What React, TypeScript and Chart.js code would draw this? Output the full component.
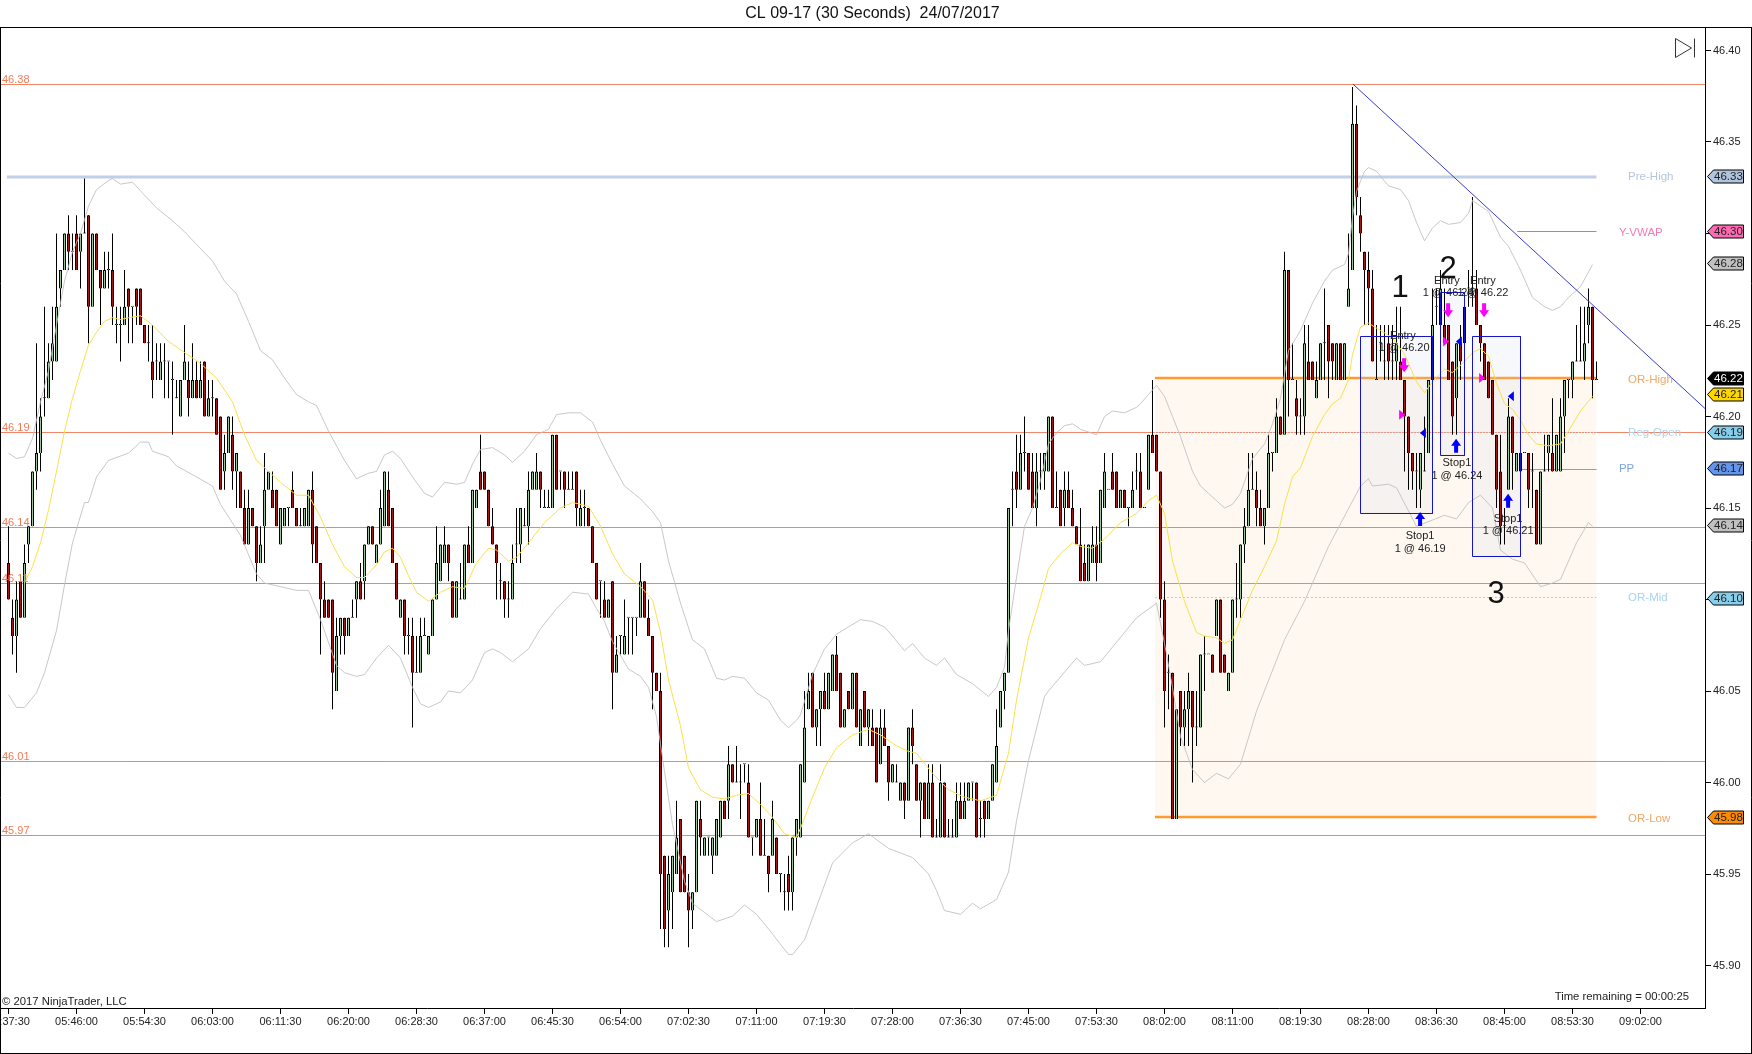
import React, { useEffect, useRef } from "react";
import { Chart, registerables } from "chart.js";
Chart.register(...registerables);

// OHLC values are in hundredths of a dollar above 46.00, one entry per 30-second bar
const openC = [12,9,8,11,9,13,14,17,18,21,21,23,23,27,28,30,29,30,29,30,31,26,30,28,27,28,28,25,25,25,27,26,27,27,25,24,23,23,22,23,23,22,21,20,22,22,21,22,21,23,20,21,21,20,17,18,19,17,17,15,13,15,14,12,14,16,16,16,13,14,15,16,15,14,14,14,16,14,12,10,10,10,5,8,9,8,9,10,11,11,13,14,12,13,14,16,15,12,9,10,8,8,6,6,8,7,8,10,11,12,13,11,9,10,10,13,12,15,17,17,16,14,13,11,11,10,10,13,13,14,14,16,16,17,15,15,15,19,17,17,16,16,17,14,15,15,14,12,11,10,9,11,6,8,7,9,9,9,9,11,9,8,6,5,-4,-7,-6,-5,-2,-4,-6,-7,-6,-2,-4,-3,-4,-4,-3,-1,-1,1,0,0,1,0,-3,-3,-2,-4,-4,-4,-3,-5,-6,-5,-6,-3,-3,0,4,6,3,4,5,4,5,7,6,3,5,4,6,2,5,3,3,3,1,3,2,0,0,-1,0,-1,3,1,-1,0,-2,0,-3,-3,0,-3,-3,-3,-1,-2,-1,0,0,-2,-1,-2,-1,0,3,5,6,16,17,16,18,18,17,15,17,17,17,20,15,16,15,16,15,14,13,12,11,12,13,12,15,16,17,17,15,16,15,15,17,17,15,16,19,19,17,10,6,6,-2,5,3,4,5,3,3,7,7,7,8,10,7,5,6,10,10,13,14,16,16,15,14,15,18,18,20,19,28,22,21,20,20,23,23,21,22,24,25,24,22,24,22,26,28,36,31,29,28,27,22,24,23,24,23,23,23,22,20,18,17,16,17,18,22,26,25,25,25,23,21,24,24,27,27,27,25,24,23,22,19,17,14,16,20,17,17,18,18,17,16,13,17,18,18,17,17,20,22,22,23,23,23,25,26,22];
const highC = [14,10,11,11,13,14,17,24,21,26,24,26,30,28,30,31,30,31,30,33,31,30,30,28,29,29,30,26,26,28,27,26,27,27,25,25,25,24,24,24,23,23,22,22,25,23,24,23,23,23,22,22,21,20,19,20,20,18,17,16,16,15,14,14,18,17,17,16,15,15,15,17,15,15,15,16,17,14,12,11,10,10,9,9,9,9,10,11,12,13,14,14,13,16,17,17,15,12,10,10,9,9,8,9,9,8,10,14,13,14,13,11,11,12,13,14,16,16,19,17,16,15,13,12,11,11,13,15,15,15,17,17,18,17,16,16,19,19,17,17,17,17,17,16,16,15,14,12,11,11,10,11,8,8,10,9,9,9,12,11,10,8,6,6,-4,-4,-4,-1,-2,-4,-5,-6,-1,-1,-3,-3,-3,-2,-1,-1,2,1,2,1,1,1,-3,-2,0,-2,-4,-1,-3,-5,-5,-4,-3,-2,1,5,6,6,4,5,6,6,7,8,6,4,5,6,6,4,5,4,4,3,4,4,2,1,1,0,0,3,4,1,0,0,1,1,-2,1,0,-2,-2,0,0,0,0,0,0,-1,-1,-1,1,4,5,6,15,17,19,19,20,18,18,18,18,18,20,20,17,16,17,17,16,14,15,13,13,14,14,16,18,16,18,17,16,16,15,17,18,18,15,19,22,19,17,11,7,6,4,5,5,6,5,5,7,8,7,7,10,10,7,6,10,12,13,15,18,18,17,16,15,19,18,21,20,29,28,24,22,21,25,25,23,23,24,27,25,24,24,24,24,30,38,37,32,29,29,28,25,25,25,25,25,26,26,22,20,18,18,18,20,22,27,27,28,27,25,23,24,25,26,28,32,28,25,24,23,22,19,19,15,21,20,18,18,18,18,18,16,17,19,19,21,19,21,22,22,23,25,26,26,27,26,23];
const lowC = [10,7,6,9,9,12,14,16,17,20,21,22,23,26,28,28,28,28,27,30,24,26,28,25,27,27,25,24,23,25,24,24,25,25,24,23,21,22,22,21,21,19,21,20,22,20,21,21,21,20,20,20,19,16,16,18,16,15,15,13,13,14,11,12,12,16,15,14,13,14,14,15,14,14,14,14,12,12,7,9,9,4,5,7,7,8,9,9,10,10,13,13,12,13,14,14,12,10,9,7,7,3,6,6,8,7,8,10,11,12,11,9,9,10,10,12,12,15,16,16,14,13,10,10,9,9,10,12,12,14,13,16,16,15,15,15,15,16,16,15,16,16,14,14,14,14,12,10,9,9,9,4,6,7,7,7,7,8,9,9,8,4,5,-8,-9,-9,-8,-5,-6,-6,-9,-8,-6,-4,-4,-4,-5,-4,-3,-2,-2,0,0,-2,0,-3,-4,-3,-4,-4,-6,-4,-5,-6,-7,-7,-7,-4,-3,0,4,3,2,2,4,4,5,5,3,3,4,4,3,2,3,2,2,0,1,2,-1,0,0,-1,-2,-1,1,-1,-3,-2,-2,-3,-3,-3,-3,-3,-3,-3,-2,-2,-1,-1,-3,-3,-3,-2,-1,0,3,4,6,14,15,16,17,16,15,14,16,16,17,15,15,14,14,15,14,13,11,11,11,12,11,12,15,16,16,15,15,15,14,15,16,15,15,16,18,17,9,3,4,-2,-2,2,2,2,0,2,3,5,7,6,8,6,6,5,6,9,9,12,14,16,14,14,13,15,17,18,19,19,20,22,19,19,19,22,22,21,22,22,21,22,22,22,22,26,28,31,29,25,25,23,22,23,22,22,22,22,22,17,16,16,15,15,17,18,22,25,25,24,22,19,19,22,24,26,26,25,23,22,21,19,15,13,13,16,16,17,17,18,15,15,13,13,17,17,17,17,17,18,21,21,23,23,22,24,21,22];
const closeC = [10,8,10,9,12,14,17,18,20,21,23,24,26,28,30,29,29,28,30,30,26,30,28,27,28,28,26,25,25,26,26,26,26,25,24,24,22,23,23,23,23,22,21,22,23,21,22,21,22,20,21,21,19,16,18,20,17,18,15,13,15,14,12,13,16,17,15,14,15,15,15,15,14,14,15,16,13,12,10,9,9,6,8,9,8,9,9,11,10,13,14,13,13,15,17,14,12,10,10,8,8,6,6,8,8,8,10,12,13,13,12,9,11,10,13,12,16,16,16,16,14,13,12,11,10,10,12,13,15,14,16,17,17,16,15,15,19,16,17,16,16,16,15,15,15,14,12,10,11,9,10,6,7,8,8,9,9,9,11,9,8,6,5,-5,-8,-5,-4,-3,-6,-6,-7,-6,-1,-3,-3,-3,-3,-2,-1,-2,1,0,0,0,1,-3,-3,-2,-4,-4,-5,-2,-5,-5,-6,-6,-3,-2,1,3,5,3,4,5,4,6,7,5,3,4,4,6,3,4,3,4,2,0,3,2,0,1,0,0,-1,3,2,-1,0,-2,0,-3,-3,0,-3,-3,-3,-1,-2,-1,0,0,-3,-2,-2,-1,1,2,5,6,15,16,16,18,18,16,15,17,17,18,20,15,15,14,16,15,14,13,11,11,13,13,12,16,17,16,16,15,16,15,15,16,17,15,15,19,18,17,10,5,6,-2,4,3,4,5,3,3,7,7,7,6,10,6,6,6,10,10,13,14,16,16,15,14,15,18,18,20,19,28,22,22,20,20,24,22,22,22,24,24,23,23,24,22,24,27,36,32,30,28,27,23,22,24,23,23,23,24,22,20,18,17,17,18,17,22,25,26,27,24,22,20,24,23,26,27,27,25,24,22,21,19,16,14,14,20,18,18,18,18,16,17,13,17,17,19,17,19,20,22,22,23,23,23,24,26,22,22];

const emaBars = [4,6,8,10,12,14,16,18,20,22,24,26,28,30,33,36,40,44,48,52,56,59,62,64,68,72,75,78,81,84,87,89,92,94,96,98,100,102,105,108,111,114,117,120,122,125,127,130,134,138,141,145,148,151,154,158,161,163,165,168,170,173,176,179,182,185,188,191,194,197,198,201,204,207,211,215,218,222,225,227,231,235,239,243,247,250,252,255,258,260,263,266,268,271,274,278,282,285,287,289,291,294,297,299,302,304,306,308,311,314,317,319,321,323,326,329,331,333,335,336,338,340,343,346,349,352,354,356,359,361,364,366,368,370,372,374,376,378,380,382,385,388,390,393,396];
const emaVals = [10.9,11.8,13.1,14.9,17,19.2,21,22.5,23.9,24.6,25.2,25.4,25.3,25.4,25.5,25,24.1,23.5,22.9,22.1,20.8,19,17.6,17.2,16.4,15.7,15.7,14.5,13,11.8,11.2,11.2,11.9,12.6,12.8,12.3,11.3,10.4,9.9,10.4,10.7,10.6,12,12.8,12.7,12.1,12.3,13.1,14.2,15,15.3,15.1,14,12.5,11.4,10.7,10,8.2,5.6,3.1,0.8,-0.4,-0.8,-0.9,-0.7,-0.6,-1.2,-1.9,-2.8,-3,-2.5,-0.8,0.8,1.9,2.6,2.9,2.6,2,1.7,1.6,0.5,-0.4,-0.8,-1,-0.7,1.6,4.5,7.9,10.1,11.7,12.5,13.1,12.9,12.8,13.3,14.2,14.7,15.4,15.7,14.7,12.1,9.9,8.2,8,7.9,7.6,7.8,8.9,10.5,11.8,13.2,15.2,16.7,17.2,18.9,20.1,20.7,21,22,23.4,24.9,25.1,24.7,24.3,23.4,21.9,21.3,21.9,22.6,22.4,23,23.5,23.7,23.3,21.8,20.7,20.4,19.8,19,18.5,18.4,18.5,19.2,20.3,21.1];
const upperBars = [0,2,4,6,8,10,12,14,16,18,20,22,25,26,28,31,34,37,41,44,47,51,54,57,60,63,66,69,72,75,77,80,84,87,90,92,94,96,98,101,104,106,109,112,114,116,118,121,124,126,129,132,135,137,140,143,146,148,151,154,158,161,163,165,168,171,174,177,179,181,184,187,190,193,195,197,198,201,204,207,210,213,216,219,221,224,226,229,232,234,237,241,245,247,249,250,252,254,256,258,260,262,264,266,268,272,274,276,279,282,283,285,287,289,291,293,296,298,300,302,304,306,308,311,314,316,318,320,323,326,329,331,334,335,336,337,339,340,342,345,348,350,352,354,356,358,360,363,365,366,368,370,373,375,378,381,384,386,388,390,393,396];
const upperVals = [18,17.7,17.8,18.8,20.8,22.5,25,27.4,29,30,31.5,32.4,32.9,33,32.7,32.8,32.1,31.4,30.7,30.1,29.4,28.5,27.4,26.7,25.2,23.6,23.1,22.1,21.2,20.8,20.6,19.2,17.6,16.6,16.9,17,17.9,18.1,17.7,16.7,15.8,15.6,16.4,16.3,16.4,17.4,18.2,18.3,17.9,17.5,18.1,19,19.3,20.1,20.2,20.2,19.7,18.7,17.4,16.2,15.5,14.8,14.2,12.1,9.8,7.8,7.3,5.7,5.6,5.8,5.7,4.9,4.5,3.4,3,3.4,3.7,5.9,7.3,8.1,8.5,8.9,8.8,8.5,8,7.2,7.6,6.8,6.4,6.8,5.9,5.4,4.7,5.2,6.3,8.3,11.2,14,15,16.5,18.5,19.1,19.5,19.6,19.3,19,20,20.3,20.2,20.5,20.7,21.2,21.7,21.1,20,18.9,17,16.2,15.8,15.4,15,15.2,15.8,17.7,18.5,19.6,21,23.6,24.7,26.2,27.4,28,28.3,28.9,30.9,32.3,33.4,33.6,33.4,32.6,32.4,31.8,30.6,29.6,30.3,30.7,30.5,30.6,31.1,31.8,31.5,31.2,29.8,29.3,28,26.5,26,25.8,26,26.5,27.1,28.3];
const lowerBars = [0,2,4,7,9,12,14,16,19,20,22,25,30,33,35,36,40,42,47,51,53,58,62,64,68,72,75,78,82,84,87,89,92,95,98,101,103,105,108,110,113,116,119,121,123,126,130,133,137,141,145,147,149,151,155,158,160,162,164,166,169,171,177,181,184,187,190,195,196,199,206,211,215,220,226,230,232,234,238,241,243,247,250,252,255,259,260,267,269,273,282,287,289,291,293,296,299,302,305,308,312,319,324,330,338,340,341,345,347,352,359,362,365,368,371,373,376,379,383,386,388,392,395,396];
const lowerVals = [4.8,4.1,4.1,4.9,6,8.3,10.8,13.1,15.3,15.3,16.7,17.6,18,18.6,18.6,18.1,17.8,17.3,16.7,16.2,15.2,13.5,11.4,10.9,10.7,10.5,10.5,8.9,6.4,6,5.8,5.9,6.8,7.5,6.8,5.2,4.3,4.1,4.4,5,4.9,5.6,7.1,7.3,7.1,6.6,7.3,8.4,9.5,10.4,10.3,9.5,8.8,7.7,6.2,5.8,5.2,3.6,0.6,-2.3,-5.4,-6.6,-7.6,-7.3,-6.7,-7.2,-8,-9.4,-9.4,-8.6,-4.4,-3.3,-2.8,-3.6,-4.1,-5,-5.9,-7,-7.2,-6.6,-6.9,-6.4,-4.9,-2.1,1.2,4.7,5,6.8,6.4,6.6,9,9.8,7.6,5.2,2.5,0.7,0,0.5,0.2,1,3.9,7.8,9.9,12.9,16.2,16.6,16.2,16.3,16.1,14,14.6,14.4,15.3,15.7,15,12.7,12.2,12,10.7,10.9,11.1,13.1,14.2,14];

const timeLabels = ["05:37:30","05:46:00","05:54:30","06:03:00","06:11:30","06:20:00","06:28:30","06:37:00","06:45:30","06:54:00","07:02:30","07:11:00","07:19:30","07:28:00","07:36:30","07:45:00","07:53:30","08:02:00","08:11:00","08:19:30","08:28:00","08:36:30","08:45:00","08:53:30","09:02:00"];
const timeBars = timeLabels.map((_, k) => k * 17);
const priceTicks = [45.9,45.95,46,46.05,46.1,46.15,46.2,46.25,46.3,46.35,46.4];

const levelPrices = [46.38142,46.19126,46.13934,46.10874,46.01148,45.97104];
const levelTexts = ["46.38","46.19","46.14","46.11","46.01","45.97"];

const orStart = 286.6;
const orEnd = 397;
const orHigh = 46.22104;
const orLow = 45.98115;
const orMid = 46.10109;
const regOpen = 46.19126;
const preHigh = 46.33087;
const yVwap = 46.30109;
const pivot = 46.17104;

const trendBars = [336.1,424.125];
const trendPrices = [46.38169,46.20437];

const boxes = [
  { from: 338, to: 356, top: 46.24372, bottom: 46.147 },
  { from: 358, to: 364, top: 46.26776, bottom: 46.17869 },
  { from: 366, to: 378, top: 46.24372, bottom: 46.1235 },
];

const lineNames = [
  { text: "Pre-High", bar: 404.9, price: 46.3309, color: "#b4c6de" },
  { text: "Y-VWAP", bar: 402.6, price: 46.3004, color: "#f47ab4" },
  { text: "OR-High", bar: 404.9, price: 46.2203, color: "#f2a76a" },
  { text: "Reg-Open", bar: 404.9, price: 46.191, color: "#a6d4ee" },
  { text: "PP", bar: 402.6, price: 46.1712, color: "#7ea2e6" },
  { text: "OR-Mid", bar: 404.9, price: 46.1007, color: "#a6d4ee" },
  { text: "OR-Low", bar: 404.9, price: 45.9801, color: "#eea868" },
];
const priceTags = [
  { text: "46.33", at: 46.3315, fill: "#b0c4de", ink: "#222" },
  { text: "46.30", at: 46.3015, fill: "#ff69b4", ink: "#222" },
  { text: "46.28", at: 46.284, fill: "#c0c0c0", ink: "#222" },
  { text: "46.22", at: 46.221, fill: "#000000", ink: "#fff" },
  { text: "46.21", at: 46.2125, fill: "#ffd700", ink: "#222" },
  { text: "46.19", at: 46.1915, fill: "#87ceeb", ink: "#222" },
  { text: "46.17", at: 46.172, fill: "#6495ed", ink: "#222" },
  { text: "46.14", at: 46.1405, fill: "#c0c0c0", ink: "#222" },
  { text: "46.10", at: 46.101, fill: "#87ceeb", ink: "#222" },
  { text: "45.98", at: 45.981, fill: "#ff8c00", ink: "#222" },
];
const smallNotes = [
  { text: "Entry", bar: 348.6, c: 24.4 },
  { text: "1 @ 46.20", bar: 348.9, c: 23.74 },
  { text: "Entry", bar: 359.6, c: 27.4 },
  { text: "1 @ 46.24", bar: 359.9, c: 26.74 },
  { text: "Entry", bar: 368.6, c: 27.4 },
  { text: "1 @ 46.22", bar: 368.6, c: 26.74 },
  { text: "Stop1", bar: 352.9, c: 13.47 },
  { text: "1 @ 46.19", bar: 352.9, c: 12.75 },
  { text: "Stop1", bar: 362.1, c: 17.44 },
  { text: "1 @ 46.24", bar: 362.1, c: 16.75 },
  { text: "Stop1", bar: 374.9, c: 14.42 },
  { text: "1 @ 46.21", bar: 374.9, c: 13.75 },
];
const bigNotes = [
  { text: "1", bar: 347.9, c: 26.98 },
  { text: "2", bar: 359.9, c: 28.04 },
  { text: "3", bar: 371.9, c: 10.28 },
];
const downArrows = [{ bar: 348.9, c: 22.8 }, { bar: 359.9, c: 25.8 }, { bar: 368.9, c: 25.8 }];
const upArrows = [{ bar: 352.9, c: 14.4 }, { bar: 361.9, c: 18.4 }, { bar: 374.9, c: 15.4 }];
const rightMarks = [{ bar: 348.4, c: 20.1 }, { bar: 359.4, c: 24.1 }, { bar: 368.4, c: 22.1 }];
const leftMarks = [{ bar: 353.6, c: 19.1 }, { bar: 362.6, c: 24.1 }, { bar: 375.6, c: 21.1 }];

const FONT = '"Liberation Sans", Arial, sans-serif';
const price = (c: number) => 46 + c / 100;
const seg = (x0: number, x1: number, y: number) => [{ x: x0, y }, { x: x1, y }];
const xyFrom = (bars: number[], vals: number[]) => bars.map((b, k) => ({ x: b, y: price(vals[k]) }));
const lineBase = { type: "line", pointRadius: 0, tension: 0, fill: false, borderWidth: 1 };

const overlays = {
  id: "overlays",
  afterDatasetsDraw(chart: any) {
    const { ctx, scales } = chart;
    const X = (b: number) => scales.x.getPixelForValue(b);
    const Y = (p: number) => scales.y.getPixelForValue(p);
    ctx.save();
    ctx.textBaseline = "middle";

    ctx.fillStyle = "#f47a55";
    ctx.font = `11px ${FONT}`;
    ctx.textAlign = "left";
    levelPrices.forEach((p, k) => ctx.fillText(levelTexts[k], 2, Y(p) - 5));

    downArrows.forEach(({ bar, c }) => {
      const x = X(bar), y = Y(price(c));
      ctx.fillStyle = "#ff00ff";
      ctx.beginPath();
      [[-2,-7],[2,-7],[2,0],[5,0],[0,7],[-5,0],[-2,0]].forEach(([a, b], i) => i ? ctx.lineTo(x + a, y + b) : ctx.moveTo(x + a, y + b));
      ctx.closePath(); ctx.fill();
    });
    upArrows.forEach(({ bar, c }) => {
      const x = X(bar), y = Y(price(c));
      ctx.fillStyle = "#0000ff";
      ctx.beginPath();
      [[-2,7],[2,7],[2,0],[5,0],[0,-7],[-5,0],[-2,0]].forEach(([a, b], i) => i ? ctx.lineTo(x + a, y + b) : ctx.moveTo(x + a, y + b));
      ctx.closePath(); ctx.fill();
    });
    rightMarks.forEach(({ bar, c }) => {
      const x = X(bar), y = Y(price(c));
      ctx.fillStyle = "#ff00ff";
      ctx.beginPath(); ctx.moveTo(x - 3, y - 5); ctx.lineTo(x + 3, y); ctx.lineTo(x - 3, y + 5); ctx.closePath(); ctx.fill();
    });
    leftMarks.forEach(({ bar, c }) => {
      const x = X(bar), y = Y(price(c));
      ctx.fillStyle = "#0000ff";
      ctx.beginPath(); ctx.moveTo(x + 3, y - 5); ctx.lineTo(x - 3, y); ctx.lineTo(x + 3, y + 5); ctx.closePath(); ctx.fill();
    });

    ctx.fillStyle = "#222";
    ctx.textAlign = "center";
    ctx.font = `11px ${FONT}`;
    smallNotes.forEach((n) => ctx.fillText(n.text, X(n.bar), Y(price(n.c))));
    ctx.fillStyle = "#111";
    ctx.font = `31px ${FONT}`;
    bigNotes.forEach((n) => ctx.fillText(n.text, X(n.bar), Y(price(n.c))));

    ctx.textAlign = "left";
    ctx.font = `11.5px ${FONT}`;
    lineNames.forEach((n) => {
      ctx.fillStyle = n.color;
      ctx.fillText(n.text, X(n.bar), Y(n.price));
    });

    priceTags.forEach((t) => {
      const y = Math.round(Y(t.at)) + 0.5;
      ctx.beginPath();
      ctx.moveTo(1707.5, y);
      ctx.lineTo(1713.5, y - 6.5);
      ctx.lineTo(1743.5, y - 6.5);
      ctx.lineTo(1743.5, y + 6.5);
      ctx.lineTo(1713.5, y + 6.5);
      ctx.closePath();
      ctx.fillStyle = t.fill;
      ctx.fill();
      ctx.strokeStyle = "#000";
      ctx.lineWidth = 1;
      ctx.stroke();
      ctx.fillStyle = t.ink;
      ctx.font = `11.5px ${FONT}`;
      ctx.textAlign = "left";
      ctx.fillText(t.text, 1714, y + 0.5);
    });

    ctx.strokeStyle = "#000";
    ctx.lineWidth = 1;
    ctx.beginPath();
    ctx.moveTo(0, 27.5); ctx.lineTo(1752, 27.5);
    ctx.moveTo(0.5, 27); ctx.lineTo(0.5, 1054);
    ctx.moveTo(1751.5, 27); ctx.lineTo(1751.5, 1054);
    ctx.moveTo(0, 1053.5); ctx.lineTo(1752, 1053.5);
    ctx.stroke();

    ctx.strokeStyle = "#333";
    ctx.beginPath();
    ctx.moveTo(1675.5, 38.5); ctx.lineTo(1691.5, 48); ctx.lineTo(1675.5, 57.5); ctx.closePath();
    ctx.moveTo(1694.5, 38.5); ctx.lineTo(1694.5, 57.5);
    ctx.stroke();

    ctx.fillStyle = "#111";
    ctx.font = `16px ${FONT}`;
    ctx.textAlign = "center";
    ctx.fillText("CL 09-17 (30 Seconds)  24/07/2017", 872.5, 14);
    ctx.font = `11.3px ${FONT}`;
    ctx.textAlign = "left";
    ctx.fillStyle = "#222";
    ctx.fillText("© 2017 NinjaTrader, LLC", 2, 1001.5);
    ctx.textAlign = "right";
    ctx.fillText("Time remaining = 00:00:25", 1689, 997);
    ctx.restore();
  },
};

export default function App() {
  const ref = useRef<HTMLCanvasElement>(null);
  useEffect(() => {
    const datasets: any[] = [
      { ...lineBase, order: 60, data: seg(orStart, orEnd, orHigh), borderWidth: 0, backgroundColor: "#fef8f0", fill: { value: orLow } },
      ...levelPrices.map((p) => ({ ...lineBase, order: 50, data: seg(-1.875, 424.125, p), borderColor: "#f08568" })),
      { ...lineBase, order: 49, data: seg(-0.4, orEnd, preHigh), borderColor: "#c2d0e7", borderWidth: 3 },
      { ...lineBase, order: 49, data: seg(377.2, orEnd, yVwap), borderColor: "#ee5fae" },
      { ...lineBase, order: 49, data: seg(378, orEnd, pivot), borderColor: "#7e9edc" },
      { ...lineBase, order: 49, data: seg(orStart, orEnd, orHigh), borderColor: "#ff9a2e", borderWidth: 2.5 },
      { ...lineBase, order: 49, data: seg(orStart, orEnd, orLow), borderColor: "#ff9a2e", borderWidth: 2.5 },
      { ...lineBase, order: 49, data: seg(orStart, orEnd, orMid), borderColor: "#a6d0ea", borderDash: [2, 2] },
      { ...lineBase, order: 49, data: seg(orStart, orEnd, regOpen), borderColor: "#cfe4f2", borderDash: [1, 2] },
      ...boxes.map((b) => ({
        ...lineBase,
        order: 45,
        data: [
          { x: b.from, y: b.top }, { x: b.to, y: b.top }, { x: b.to, y: b.bottom }, { x: b.from, y: b.bottom }, { x: b.from, y: b.top },
        ],
        borderColor: "transparent",
        borderWidth: 0,
        backgroundColor: "rgba(200,212,235,0.16)",
        fill: "shape",
      })),
      {
        type: "bar",
        order: 30,
        grouped: false,
        barThickness: 1,
        inflateAmount: 0,
        backgroundColor: "#000",
        data: highC.map((h, i) => ({ x: i, y: [price(lowC[i]), price(h)] })),
      },
      {
        type: "bar",
        order: 20,
        grouped: false,
        barThickness: 3,
        inflateAmount: 0,
        borderWidth: 1,
        borderColor: "#000",
        minBarLength: 1,
        backgroundColor: openC.map((o, i) => (closeC[i] >= o ? "#98c898" : "#a81414")),
        data: openC.map((o, i) => ({ x: i, y: [price(o), price(closeC[i])] })),
      },
      { ...lineBase, order: 10, data: xyFrom(upperBars, upperVals), borderColor: "rgba(190,190,195,0.85)" },
      { ...lineBase, order: 10, data: xyFrom(lowerBars, lowerVals), borderColor: "rgba(190,190,195,0.85)" },
      { ...lineBase, order: 9, data: xyFrom(emaBars, emaVals), borderColor: "#fbe04a" },
      ...boxes.map((b) => ({
        ...lineBase,
        order: 5,
        data: [
          { x: b.from, y: b.top }, { x: b.to, y: b.top }, { x: b.to, y: b.bottom }, { x: b.from, y: b.bottom }, { x: b.from, y: b.top },
        ],
        borderColor: "#1414c8",
      })),
      { ...lineBase, order: 4, data: trendBars.map((b, k) => ({ x: b, y: trendPrices[k] })), borderColor: "#3c3cc8" },
    ];
    const chart = new Chart(ref.current as HTMLCanvasElement, {
      type: "bar",
      data: { datasets },
      plugins: [overlays],
      options: {
        animation: false,
        responsive: false,
        devicePixelRatio: 1,
        layout: { padding: { left: 1, top: 27, right: 0, bottom: 0 } },
        plugins: { legend: { display: false }, title: { display: false }, tooltip: { enabled: false }, filler: { propagate: false } },
        events: [],
        scales: {
          x: {
            type: "linear",
            offset: false,
            min: -1.875,
            max: 424.125,
            grid: { offset: false, drawOnChartArea: false, drawTicks: true, tickLength: 6, color: "#000" },
            border: { display: true, color: "#000" },
            afterBuildTicks: (s: any) => { s.ticks = timeBars.map((value) => ({ value })); },
            afterFit: (s: any) => { s.height = 46; s.paddingLeft = 0; s.paddingRight = 0; },
            ticks: {
              autoSkip: false,
              maxRotation: 0,
              minRotation: 0,
              padding: 1,
              color: "#222",
              font: { family: FONT, size: 11 },
              callback: (v: any) => timeLabels[timeBars.indexOf(v)] ?? "",
            },
          },
          y: {
            type: "linear",
            position: "right",
            min: 45.87678,
            max: 46.41284,
            grid: { drawOnChartArea: false, drawTicks: true, tickLength: 6, color: "#000" },
            border: { display: true, color: "#000" },
            afterBuildTicks: (s: any) => { s.ticks = priceTicks.map((value) => ({ value })); },
            afterFit: (s: any) => { s.width = 47; s.paddingTop = 0; s.paddingBottom = 0; },
            ticks: {
              padding: 2,
              color: "#222",
              font: { family: FONT, size: 11 },
              callback: (v: any) => Number(v).toFixed(2),
            },
          },
        },
      },
    } as any);
    return () => chart.destroy();
  }, []);
  return (
    <canvas
      ref={ref}
      width={1752}
      height={1054}
      style={{ position: "fixed", left: 0, top: 0, width: 1752, height: 1054, display: "block", background: "#fff" }}
    />
  );
}
